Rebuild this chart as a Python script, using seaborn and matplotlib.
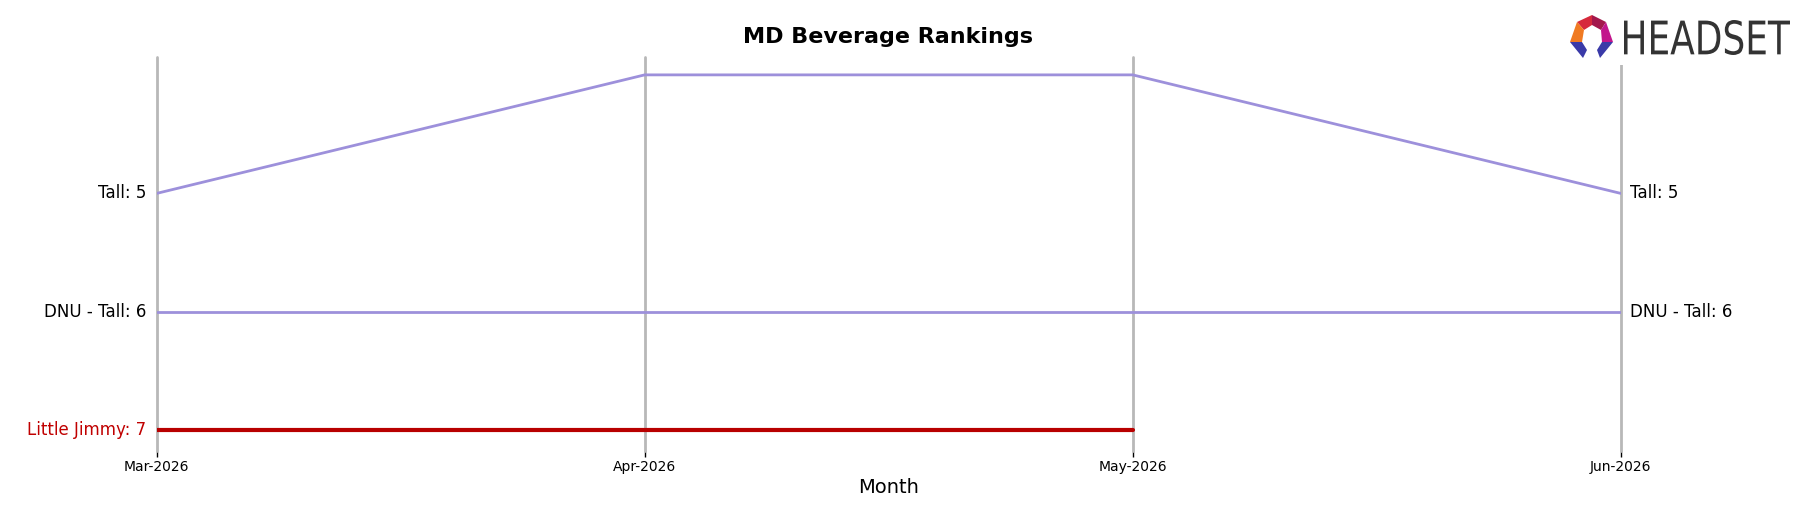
import numpy as np
import pandas as pd
import seaborn as sns
import matplotlib.pyplot as plt
from matplotlib.patches import Polygon, PathPatch
from matplotlib.textpath import TextPath
from matplotlib.font_manager import FontProperties
from matplotlib.transforms import Affine2D

sns.set_style('white')
plt.rcParams['font.family'] = ['DejaVu Sans']
plt.rcParams['text.color'] = 'black'
plt.rcParams['axes.labelcolor'] = 'black'
plt.rcParams['xtick.color'] = 'black'

# Data
months = ['Mar-2026', 'Apr-2026', 'May-2026', 'Jun-2026']
tall_rank = [5, 4, 4, 5]
dnu_tall_rank = [6, 6, 6, 6]
little_jimmy_rank = [7, 7, 7]

brands = ['Tall', 'DNU - Tall', 'Little Jimmy']
ranks = [tall_rank, dnu_tall_rank, little_jimmy_rank]
colors = {'Tall': '#9d90db', 'DNU - Tall': '#9d90db', 'Little Jimmy': '#b80000'}
widths = {'Tall': 2, 'DNU - Tall': 2, 'Little Jimmy': 3}
text_colors = {'Tall': 'black', 'DNU - Tall': 'black', 'Little Jimmy': '#c00000'}

rows = []
for brand, r in zip(brands, ranks):
    for i, v in enumerate(r):
        rows.append({'brand': brand, 'month_idx': i, 'month': months[i], 'rank': v})
df = pd.DataFrame(rows)

W, H = 1805, 507
fig = plt.figure(figsize=(W / 100, H / 100), dpi=100)
ax = fig.add_axes([156.6 / W, 1 - 451 / H, (1620.8 - 156.6) / W, (451 - 56.5) / H])

# month grid lines
for i in range(len(months)):
    ax.axvline(i, color='#b8b8b8', lw=2, zorder=1, clip_on=False)

for brand in brands:
    d = df[df['brand'] == brand]
    sns.lineplot(data=d, x='month_idx', y='rank', ax=ax, color=colors[brand],
                 lw=widths[brand], zorder=3, legend=False)
    first = d.iloc[0]
    ax.annotate(f"{brand}: {first['rank']}", (first['month_idx'], first['rank']),
                xytext=(-7.5, 0), textcoords='offset points', ha='right', va='center',
                fontsize=12, color=text_colors[brand])
    last = d.iloc[-1]
    if last['month_idx'] == len(months) - 1:
        ax.annotate(f"{brand}: {last['rank']}", (last['month_idx'], last['rank']),
                    xytext=(6.5, 0), textcoords='offset points', ha='left', va='center',
                    fontsize=12, color=text_colors[brand])

ax.set_xlim(0, len(months) - 1)
ax.set_ylim(7.173, 3.845)
ax.set_xticks(range(len(months)))
ax.set_xticklabels(months)
ax.set_yticks([])
ax.set_ylabel('')
ax.tick_params(axis='x', length=4, width=1, pad=2.5, labelsize=10, bottom=True,
               color='black', labelcolor='black')
ax.set_xlabel('Month', fontsize=14, labelpad=3)
sns.despine(ax=ax, left=True, bottom=True)

fig.text(888 / W, 1 - 37 / H, 'MD Beverage Rankings', ha='center', va='center',
         fontsize=16, fontweight='bold', color='black')

# logo
lax = fig.add_axes([1560 / W, 1 - 65 / H, 245 / W, 57 / H])
lax.set_xlim(1560, 1805)
lax.set_ylim(65, 8)
lax.axis('off')
lax.add_patch(plt.Rectangle((1560, 8), 245, 57, color='white', zorder=0))
pieces = [
    ([(1577, 22), (1592, 15), (1592, 25), (1584, 30)], '#d62a3c'),
    ([(1592, 15), (1606, 22), (1601, 30), (1592, 25)], '#a3184c'),
    ([(1577, 22), (1584, 30), (1582, 42), (1570, 42)], '#f07a22'),
    ([(1606, 22), (1613, 42), (1602, 42), (1601, 30)], '#c2168c'),
    ([(1570, 42), (1582, 42), (1587, 50), (1583, 58)], '#3a3aa8'),
    ([(1602, 42), (1613, 42), (1600, 58), (1597, 50)], '#3a3aa8'),
]
for pts, c in pieces:
    lax.add_patch(Polygon(pts, closed=True, color=c, lw=0))
tp = TextPath((0, 0), 'HEADSET', size=10, prop=FontProperties(family='DejaVu Sans'))
bb = tp.get_extents()
tr = Affine2D().translate(-bb.x0, -bb.y0).scale(166 / bb.width, -35 / bb.height).translate(1624, 55)
lax.add_patch(PathPatch(tr.transform_path(tp), color='#333333', lw=0))

fig.savefig('out.png', dpi=100)
